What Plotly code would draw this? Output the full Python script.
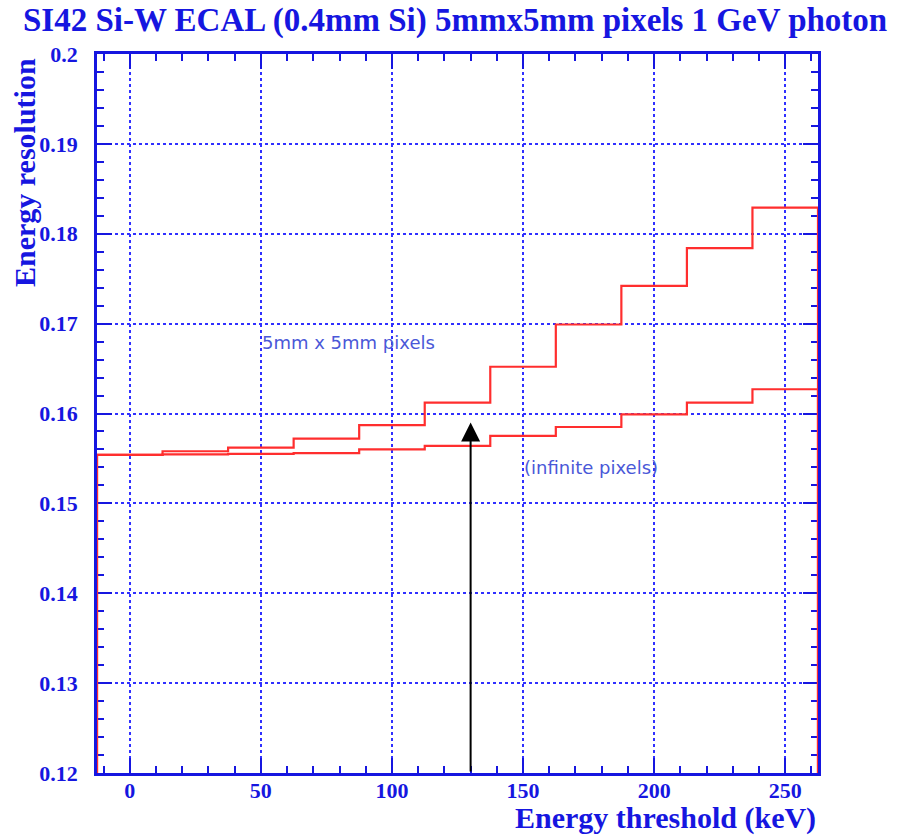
import plotly.graph_objects as go

# Energy threshold bins (keV), centred every 25 keV
threshold_kev = [0, 25, 50, 75, 100, 125, 150, 175, 200, 225, 250]
bin_width = 25

# Energy resolution for a 1 GeV photon
res_5mm_pixels = [0.1554, 0.1558, 0.1562, 0.1572, 0.1587, 0.1612,
                  0.1652, 0.1699, 0.1742, 0.1784, 0.1829]
res_infinite_pixels = [0.1554, 0.15545, 0.1555, 0.1556, 0.1560, 0.1564,
                       0.1575, 0.1585, 0.1599, 0.1612, 0.1627]

title_text = "SI42 Si-W ECAL (0.4mm Si) 5mmx5mm pixels 1 GeV photon"
x_title = "Energy threshold (keV)"
y_title = "Energy resolution"
label_5mm = "5mm x 5mm pixels"
label_inf = "(infinite pixels)"
marker_kev = 130
marker_res = 0.159

BLUE = "#1616e0"
GRID = "#3030ff"
RED = "#ff2e2e"
LABEL = "#4a58d8"
SERIF = "Liberation Serif, Times New Roman, serif"


def histogram_outline(centers, values, width):
    """Outline of a histogram: rises from zero at the first edge, falls back at the last."""
    xs = [centers[0] - width / 2]
    ys = [0.0]
    for c, v in zip(centers, values):
        xs += [c - width / 2, c + width / 2]
        ys += [v, v]
    xs.append(centers[-1] + width / 2)
    ys.append(0.0)
    return xs, ys


fig = go.Figure()
for vals in (res_5mm_pixels, res_infinite_pixels):
    hx, hy = histogram_outline(threshold_kev, vals, bin_width)
    fig.add_trace(go.Scatter(x=hx, y=hy, mode="lines",
                             line=dict(color=RED, width=2.2),
                             showlegend=False, hoverinfo="skip"))

x_lo = threshold_kev[0] - bin_width / 2
x_hi = threshold_kev[-1] + bin_width / 2

axis_common = dict(
    showline=True, linecolor=BLUE, linewidth=2.5, mirror="allticks",
    ticks="inside", tickcolor=BLUE, tickwidth=2, ticklen=15,
    showgrid=True, gridcolor=GRID, gridwidth=1.5, griddash="dot",
    zeroline=False, layer="below traces",
    tickfont=dict(family=SERIF, size=22, color=BLUE, weight="bold"),
)

fig.update_xaxes(range=[x_lo, x_hi], tick0=0, dtick=50, ticklabelstandoff=-4,
                 minor=dict(dtick=10, ticks="inside", ticklen=7,
                            tickcolor=BLUE, tickwidth=1.5, showgrid=False),
                 **axis_common)
fig.update_yaxes(range=[0.12, 0.2], tick0=0.12, dtick=0.01, ticklabelstandoff=12,
                 minor=dict(dtick=0.002, ticks="inside", ticklen=7,
                            tickcolor=BLUE, tickwidth=1.5, showgrid=False),
                 **axis_common)

annotations = [
    dict(text=title_text, xref="paper", yref="paper", x=0.5, y=1,
         xanchor="center", yanchor="bottom", yshift=13, xshift=-3,
         showarrow=False,
         font=dict(family=SERIF, size=33, color=BLUE, weight="bold")),
    dict(text=x_title, xref="paper", yref="paper", x=1, y=0,
         xanchor="right", yanchor="top", yshift=-26, showarrow=False,
         font=dict(family=SERIF, size=30, color=BLUE, weight="bold")),
    dict(text=y_title, xref="paper", yref="paper", x=0, y=1,
         xanchor="right", yanchor="top", xshift=-54, yshift=-2,
         textangle=-90, showarrow=False,
         font=dict(family=SERIF, size=30, color=BLUE, weight="bold")),
    dict(text=label_5mm, x=83.6, y=0.16785, xref="x", yref="y",
         xanchor="center", showarrow=False,
         font=dict(family="DejaVu Sans, sans-serif", size=18, color=LABEL)),
    dict(text=label_inf, x=175.8, y=0.15395, xref="x", yref="y",
         xanchor="center", showarrow=False,
         font=dict(family="DejaVu Sans, sans-serif", size=18, color=LABEL)),
    dict(x=marker_kev, y=marker_res, ax=marker_kev, ay=0.12,
         xref="x", yref="y", axref="x", ayref="y", text="",
         showarrow=True, arrowhead=2, arrowsize=1.9, arrowwidth=2,
         arrowcolor="black"),
]

fig.update_layout(
    width=913, height=836,
    margin=dict(l=97, r=95, t=54, b=63),
    paper_bgcolor="white", plot_bgcolor="white",
    annotations=annotations,
    showlegend=False,
)

fig.write_html("out.html")
